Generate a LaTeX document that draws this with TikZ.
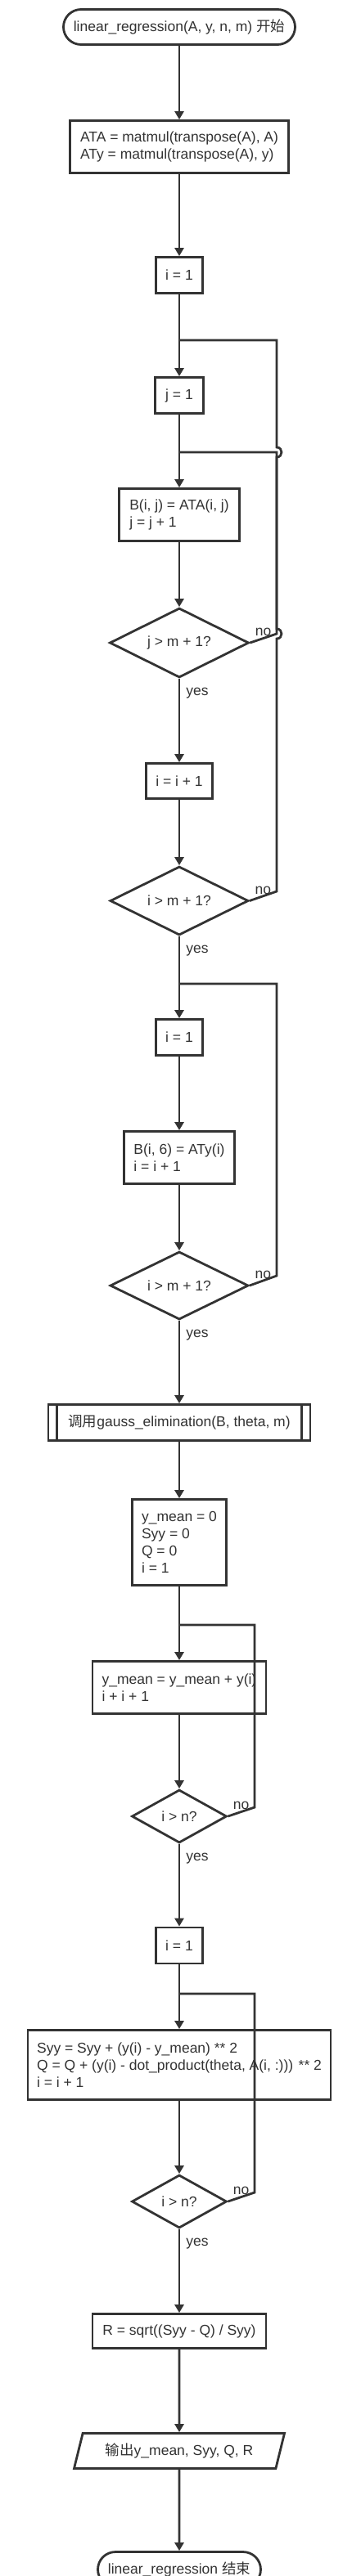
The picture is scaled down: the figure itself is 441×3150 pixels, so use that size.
\documentclass[tikz,border=0pt]{standalone}
\usepackage{fontspec}
\setmainfont{Liberation Sans}
\newfontfamily\cjk{Noto Sans CJK SC}
\usepackage{tikz}
\usetikzlibrary{arrows.meta}
\usetikzlibrary{shapes}
\usepackage{xcolor}
\definecolor{linec}{HTML}{333333}
\newcommand{\flowfont}{\fontsize{17.5pt}{21pt}\selectfont}
\tikzset{termbox/.style={draw, fill=white, rounded corners=21.5pt, minimum height=43pt, inner sep=0pt, font=\flowfont}}
\tikzset{procbox/.style={draw, fill=white, align=left, inner sep=0pt, font=\flowfont}}
\tikzset{decbox/.style={draw, fill=white, diamond, aspect=2, inner sep=0pt, font=\flowfont}}
\tikzset{iobox/.style={draw, fill=white, trapezium, trapezium left angle=60, trapezium right angle=120, trapezium stretches body, inner sep=0pt, font=\flowfont}}
\tikzset{lbl/.style={inner sep=0pt, font=\flowfont}}
\tikzset{yeslbl/.style={lbl, pos=0, anchor=north west, xshift=7pt, yshift=-9.5pt}}
\tikzset{nolbl/.style={lbl, midway, anchor=south, yshift=1pt}}

\begin{document}
\begin{tikzpicture}[x=1pt, y=-1pt, line width=2.8pt, color=linec, >={Triangle[width=11pt,length=10pt]}]
\useasboundingbox (0, 0) rectangle (441, 3150);

\node[termbox, minimum width=283pt] (start) at (219, 33) {linear\_regression(A, y, n, m) {\cjk 开始}};
\node[procbox, minimum width=267pt, minimum height=64pt] (ata) at (219, 179.5) {ATA = matmul(transpose(A), A)\\ATy = matmul(transpose(A), y)};
\node[procbox, minimum width=57pt, minimum height=44pt] (i1a) at (219, 336.5) {i = 1};
\node[procbox, minimum width=59pt, minimum height=44pt] (j1) at (219, 483.5) {j = 1};
\node[procbox, minimum width=147pt, minimum height=64pt] (bij) at (219, 629.5) {B(i, j) = ATA(i, j)\\j = j + 1};
\node[decbox, minimum width=170pt, minimum height=85pt] (djm) at (219, 786) {j > m + 1?};
\node[procbox, minimum width=81pt, minimum height=43pt] (iinc) at (219, 955) {i = i + 1};
\node[decbox, minimum width=169pt, minimum height=84pt] (dim1) at (219, 1101.5) {i > m + 1?};
\node[procbox, minimum width=57pt, minimum height=44pt] (i1b) at (219, 1268.5) {i = 1};
\node[procbox, minimum width=135pt, minimum height=64pt] (bi6) at (219, 1415.5) {B(i, 6) = ATy(i)\\i = i + 1};
\node[decbox, minimum width=169pt, minimum height=83pt] (dim2) at (219, 1572) {i > m + 1?};
\node[procbox, minimum width=320pt, minimum height=44pt] (gauss) at (219, 1739.5) {{\cjk 调用}gauss\_elimination(B, theta, m)};
\node[procbox, minimum width=115pt, minimum height=105pt] (init) at (219, 1886) {y\_mean = 0\\Syy = 0\\Q = 0\\i = 1};
\node[procbox, minimum width=212pt, minimum height=64pt] (ymsum) at (219, 2063.5) {y\_mean = y\_mean + y(i)\\i + i + 1};
\node[decbox, minimum width=116pt, minimum height=65pt] (din1) at (219, 2221) {i > n?};
\node[procbox, minimum width=57pt, minimum height=44pt] (i1c) at (219, 2379) {i = 1};
\node[procbox, minimum width=370pt, minimum height=85pt] (syy) at (219, 2525) {Syy = Syy + (y(i) - y\_mean) ** 2\\Q = Q + (y(i) - dot\_product(theta, A(i, :))) ** 2\\i = i + 1};
\node[decbox, minimum width=116pt, minimum height=65pt] (din2) at (219, 2692) {i > n?};
\node[procbox, minimum width=212pt, minimum height=42pt] (rr) at (219, 2850.5) {R = sqrt((Syy - Q) / Syy)};
\node[iobox, minimum width=257pt, minimum height=43pt] (out) at (219, 2997) {{\cjk 输出}y\_mean, Syy, Q, R};
\node[termbox, minimum width=199pt] (stop) at (219, 3142) {linear\_regression {\cjk 结束}};

% gauss box side bars
\draw ([xshift=12pt]gauss.north west) -- ([xshift=12pt]gauss.south west);
\draw ([xshift=-12pt]gauss.north east) -- ([xshift=-12pt]gauss.south east);

% merge points and loop corners
\coordinate (mi) at (219, 416);
\coordinate (mj) at (219, 553);
\coordinate (mb) at (219, 1203);
\coordinate (my) at (219, 1987);
\coordinate (ms) at (219, 2438);
\coordinate (nj) at (338, 775);
\coordinate (ni) at (338, 1090);
\coordinate (nb) at (338, 1560);
\coordinate (ny) at (311, 2210);
\coordinate (ns) at (311, 2681);

\draw[->] (start.south) to (ata.north);
\draw[->] (ata.south) to (i1a.north);
\draw[->] (i1a.south) to (j1.north);
\draw[->] (j1.south) to (bij.north);
\draw[->] (bij.south) to (djm.north);
\draw[->] (djm.south) to node[yeslbl] (yes1) {yes} (iinc.north);
\draw[->] (iinc.south) to (dim1.north);
\draw[->] (dim1.south) to node[yeslbl] (yes2) {yes} (i1b.north);
\draw[->] (i1b.south) to (bi6.north);
\draw[->] (bi6.south) to (dim2.north);
\draw[->] (dim2.south) to node[yeslbl] (yes3) {yes} (gauss.north);
\draw[->] (gauss.south) to (init.north);
\draw[->] (init.south) to (ymsum.north);
\draw[->] (ymsum.south) to (din1.north);
\draw[->] (din1.south) to node[yeslbl] (yes4) {yes} (i1c.north);
\draw[->] (i1c.south) to (syy.north);
\draw[->] (syy.south) to (din2.north);
\draw[->] (din2.south) to node[yeslbl] (yes5) {yes} (rr.north);
\draw[->] (rr.south) to (out.north);
\draw[->] (out.south) to (stop.north);

% no branches
\draw (djm.east) -- node[nolbl] (no1) {no} (nj) -- (338, 553) -- (mj);
\draw (dim1.east) -- node[nolbl] (no2) {no} (ni) -- (338, 781) .. controls (346, 781) and (346, 769) .. (338, 769)
  -- (338, 559) .. controls (346, 559) and (346, 547) .. (338, 547) -- (338, 416) -- (mi);
\draw (dim2.east) -- node[nolbl] (no3) {no} (nb) -- (338, 1203) -- (mb);
\draw (din1.east) -- node[nolbl] (no4) {no} (ny) -- (311, 1987) -- (my);
\draw (din2.east) -- node[nolbl] (no5) {no} (ns) -- (311, 2438) -- (ms);

\end{tikzpicture}
\end{document}
